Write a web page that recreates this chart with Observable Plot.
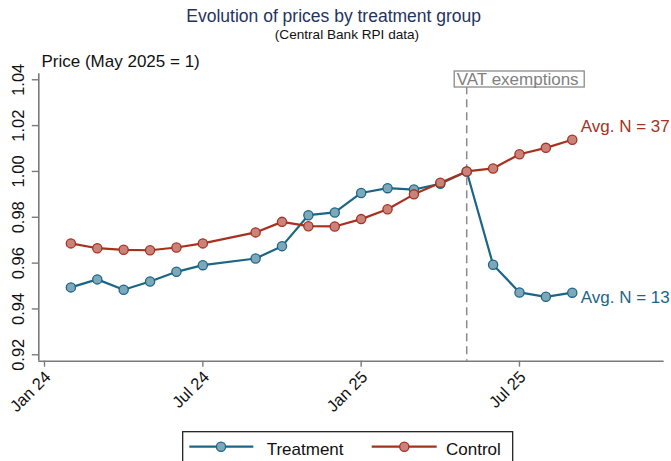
<!DOCTYPE html>
<html><head><meta charset="utf-8">
<script src="https://cdn.jsdelivr.net/npm/d3@7"></script>
<script src="https://cdn.jsdelivr.net/npm/@observablehq/plot@0.6"></script>
<style>
body{margin:0;background:#fff;}
#wrap{position:relative;width:671px;height:461px;overflow:hidden;}
svg{font-family:"Liberation Sans",Arial,Helvetica,sans-serif;}
</style></head><body><div id="wrap"></div>
<script>
// ---- data ----
const months = ["2024-02","2024-03","2024-04","2024-05","2024-06","2024-07",
  "2024-09","2024-10","2024-11","2024-12",
  "2025-01","2025-02","2025-03","2025-04","2025-05","2025-06","2025-07","2025-08","2025-09"];
const treatment = [0.9494,0.9529,0.9484,0.9520,0.9562,0.9591,
  0.9620,0.9674,0.9809,0.9821,
  0.9906,0.9927,0.9921,0.9946,1.0000,0.9593,0.9472,0.9453,0.9471];
const control = [0.9686,0.9665,0.9658,0.9656,0.9668,0.9686,
  0.9734,0.9780,0.9761,0.9760,
  0.9792,0.9835,0.9900,0.9951,1.0000,1.0013,1.0075,1.0103,1.0138];
const seriesNames = ["Treatment","Control"];
const endLabels = ["Avg. N = 13","Avg. N = 37"];
const xTickMonths = ["2024-01","2024-07","2025-01","2025-07"];
const xTickLabels = ["Jan 24","Jul 24","Jan 25","Jul 25"];
const yTicks = [0.92,0.94,0.96,0.98,1.00,1.02,1.04];
const eventMonth = "2025-05";
const eventLabel = "VAT exemptions";
const titleText = "Evolution of prices by treatment group";
const subtitleText = "(Central Bank RPI data)";
const yLabelText = "Price (May 2025 = 1)";

// ---- styles ----
const lineColors = ["#1b6686","#a7311f"];
const fillColors = ["#7ea8ba","#ca837a"];
const axisGray = "#7a7a7a";
const FONT = "Liberation Sans, Arial, Helvetica, sans-serif";

const mIndex = s => { const [y, m] = s.split("-").map(Number); return (y - 2024) * 12 + (m - 1); };
const seriesValues = [treatment, control];
const rows = seriesNames.map((name, k) => months.map((mo, j) => ({series: name, i: mIndex(mo), value: seriesValues[k][j]})));

const xDomain = [-0.216, 23.48];
const yDomain = [0.9172, 1.0426];

const marks = [
  Plot.ruleX([mIndex(eventMonth)], {stroke: "#8a8a8a", strokeWidth: 1.5, strokeDasharray: "8,5"}),
  Plot.axisY({ticks: yTicks, tickSize: 6.5, tickFormat: () => "", stroke: axisGray, strokeWidth: 1.4, label: null}),
  Plot.text(yTicks, {y: d => d, text: d => d.toFixed(2), frameAnchor: "left", dx: -20, rotate: -90,
    textAnchor: "middle", lineAnchor: "middle", fontSize: 16.5, fill: "#111"}),
  Plot.axisX({ticks: xTickMonths.map(mIndex), tickSize: 6, tickFormat: () => "", stroke: axisGray, strokeWidth: 1.4, label: null}),
  Plot.text(xTickMonths.map(mIndex), {x: d => d, text: (d, j) => xTickLabels[j], frameAnchor: "bottom", dy: 8.5, dx: -1,
    rotate: -45, textAnchor: "end", lineAnchor: "top", fontSize: 16.5, fill: "#111"}),
  Plot.ruleX([xDomain[0]], {stroke: axisGray, strokeWidth: 1.6}),
  Plot.ruleY([yDomain[0]], {stroke: axisGray, strokeWidth: 1.6})
];
rows.forEach((data, k) => {
  marks.push(Plot.line(data, {x: "i", y: "value", stroke: lineColors[k], strokeWidth: 2.2}));
  marks.push(Plot.dot(data, {x: "i", y: "value", r: 4.6, fill: fillColors[k], stroke: lineColors[k], strokeWidth: 1.3}));
});
rows.forEach((data, k) => {
  marks.push(Plot.text([data[data.length - 1]], {x: "i", y: "value", text: () => endLabels[k], dx: 8.5,
    dy: k === 0 ? 5 : -13, textAnchor: "start", lineAnchor: "middle", fontSize: 17, fill: lineColors[k]}));
});

const plot = Plot.plot({
  width: 671, height: 461,
  marginLeft: 38.3, marginRight: 7.4, marginTop: 73.3, marginBottom: 100.3,
  style: {fontFamily: FONT, background: "#fff", overflow: "visible"},
  x: {type: "linear", domain: xDomain, axis: null},
  y: {type: "linear", domain: yDomain, axis: null},
  marks
});
document.getElementById("wrap").appendChild(plot);

// ---- annotations / titles / legend ----
const svg = d3.select(plot);
const g = svg.append("g").attr("font-family", FONT).attr("text-anchor", "start");
const xE = plot.scale("x").apply(mIndex(eventMonth));
g.append("rect").attr("x", xE - 12).attr("y", 71).attr("width", 130).attr("height", 16)
  .attr("fill", "#fff").attr("stroke", "#8a8a8a").attr("stroke-width", 1.3);
g.append("text").attr("x", xE - 9.5).attr("y", 85).attr("text-anchor", "start").attr("font-size", 17)
  .attr("fill", "#808080").text(eventLabel);

g.append("text").attr("x", 333.7).attr("y", 21.7).attr("text-anchor", "middle").attr("font-size", 17.5)
  .attr("fill", "#24335f").text(titleText);
g.append("text").attr("x", 347).attr("y", 38.5).attr("text-anchor", "middle").attr("font-size", 13.6)
  .attr("fill", "#111").text(subtitleText);
g.append("text").attr("x", 41.5).attr("y", 66.5).attr("text-anchor", "start").attr("font-size", 17)
  .attr("fill", "#111").text(yLabelText);

const lg = g.append("g");
lg.append("rect").attr("x", 182.7).attr("y", 431.7).attr("width", 330).attr("height", 45)
  .attr("fill", "#fff").attr("stroke", "#111").attr("stroke-width", 1.2);
const legendItems = [
  {x1: 189.3, x2: 253.3, cx: 221, tx: 266.7},
  {x1: 371.7, x2: 436.7, cx: 404.3, tx: 446}
];
legendItems.forEach((it, k) => {
  lg.append("line").attr("x1", it.x1).attr("x2", it.x2).attr("y1", 446.7).attr("y2", 446.7)
    .attr("stroke", lineColors[k]).attr("stroke-width", 2.2);
  lg.append("circle").attr("cx", it.cx).attr("cy", 446.7).attr("r", 4.6).attr("fill", fillColors[k])
    .attr("stroke", lineColors[k]).attr("stroke-width", 1.3);
  lg.append("text").attr("x", it.tx).attr("y", 455).attr("text-anchor", "start").attr("font-size", 17)
    .attr("fill", "#111").text(seriesNames[k]);
});
</script></body></html>
